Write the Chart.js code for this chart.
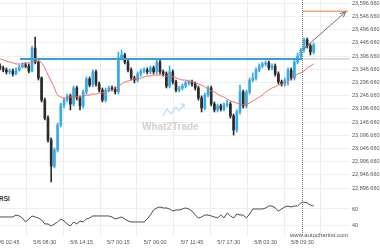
<!DOCTYPE html>
<html>
<head>
<meta charset="utf-8">
<script src="https://cdn.jsdelivr.net/npm/chart.js@4.4.1/dist/chart.umd.min.js"></script>
<style>
  html, body { margin: 0; padding: 0; background: #fff; }
  canvas { display: block; }
</style>
</head>
<body>
<canvas id="chart" width="380" height="250"></canvas>
<script>
// 30-minute candles, x = 15-minute slot index
const opens = [23359,23352,23344,23337,23340,23329,23344,23355,23363,23359,
  23340,23427,23374,23314,23230,23162,23079,22980,23041,23136,
  23212,23230,23246,23215,23276,23238,23208,23261,23310,23287,
  23337,23291,23268,23230,23268,23276,23272,23261,23390,23401,
  23374,23344,23314,23306,23329,23340,23344,23337,23352,23337,
  23374,23337,23329,23283,23337,23299,23268,23276,23283,23295,
  23299,23291,23276,23238,23200,23249,23276,23215,23193,23208,
  23196,23212,23215,23170,23117,23185,23261,23208,23261,23306,
  23314,23344,23359,23367,23371,23352,23359,23329,23299,23291,
  23306,23344,23314,23374,23397,23420,23458,23435,23412];
const closes = [23352,23344,23337,23340,23329,23344,23355,23363,23359,23340,
  23427,23374,23314,23230,23162,23079,22980,23041,23136,23212,
  23230,23246,23215,23276,23238,23208,23261,23310,23287,23337,
  23291,23268,23230,23268,23276,23272,23261,23390,23401,23374,
  23344,23314,23306,23329,23340,23344,23337,23352,23337,23374,
  23337,23329,23283,23337,23299,23268,23276,23283,23295,23299,
  23291,23276,23238,23200,23249,23276,23215,23193,23208,23196,
  23212,23215,23170,23117,23185,23261,23208,23261,23306,23314,
  23344,23359,23367,23371,23352,23359,23329,23299,23291,23306,
  23344,23314,23374,23397,23420,23458,23435,23412,23439];
const highs = [23367,23359,23352,23348,23348,23352,23363,23371,23371,23367,
  23435,23469,23378,23318,23238,23170,23087,23049,23143,23219,
  23238,23253,23253,23283,23283,23246,23268,23318,23318,23344,
  23344,23299,23276,23276,23283,23283,23280,23412,23420,23408,
  23382,23352,23321,23337,23348,23352,23352,23359,23359,23386,
  23382,23344,23337,23359,23344,23306,23283,23291,23302,23306,
  23306,23299,23283,23246,23257,23283,23283,23223,23215,23215,
  23219,23230,23223,23177,23193,23287,23268,23268,23314,23333,
  23352,23367,23374,23378,23378,23367,23367,23337,23306,23314,
  23352,23352,23382,23408,23427,23465,23465,23443,23446];
const lows = [23344,23337,23329,23329,23321,23325,23340,23352,23352,23333,
  23337,23367,23306,23223,23155,23071,22920,22973,23033,23128,
  23200,23223,23193,23208,23230,23193,23200,23253,23280,23280,
  23283,23261,23223,23223,23261,23265,23253,23253,23382,23367,
  23337,23306,23295,23299,23321,23333,23329,23329,23329,23329,
  23329,23321,23276,23276,23291,23261,23261,23268,23276,23287,
  23283,23268,23230,23185,23193,23242,23208,23185,23185,23189,
  23189,23204,23162,23098,23109,23177,23200,23200,23253,23299,
  23306,23337,23352,23359,23344,23344,23321,23291,23283,23283,
  23287,23306,23306,23367,23390,23412,23427,23401,23405];
const movingAvg = [23386,23382,23378,23374,23371,23367,23367,23367,23371,23371,
  23374,23378,23382,23371,23352,23325,23302,23276,23249,23242,
  23238,23238,23242,23242,23242,23242,23246,23249,23249,23253,
  23253,23257,23257,23261,23265,23268,23276,23283,23291,23299,
  23302,23306,23310,23310,23314,23318,23321,23321,23325,23325,
  23325,23325,23321,23318,23318,23314,23310,23306,23306,23302,
  23299,23295,23291,23287,23280,23272,23265,23261,23253,23246,
  23242,23234,23227,23223,23219,23215,23212,23215,23219,23227,
  23234,23242,23249,23261,23268,23276,23280,23287,23291,23295,
  23302,23310,23318,23329,23333,23340,23352,23359,23367];
const rsi = [50.6,50.6,50.6,50.6,50.6,52.9,51.8,49.4,44.7,48.2,
  51.8,50.6,49.4,47.1,42.4,42.4,40.0,42.4,44.7,48.2,
  45.9,42.4,40.0,44.7,42.4,45.9,44.7,48.2,49.4,51.8,
  51.8,51.8,51.8,51.8,51.8,50.6,48.2,49.4,50.6,48.2,
  45.9,44.7,44.7,44.7,44.7,44.7,48.2,52.9,58.8,61.2,
  62.4,61.2,61.2,60.0,57.6,58.8,58.8,60.0,61.2,60.0,
  57.6,52.9,49.4,50.6,52.9,52.9,51.8,50.6,49.4,52.9,
  49.4,55.3,51.8,49.4,54.1,52.9,52.9,49.4,54.1,60.0,
  60.0,60.0,60.0,61.2,63.5,63.5,61.2,57.6,60.0,62.4,
  63.5,62.4,63.5,63.5,67.1,68.2,67.1,64.7,63.5];

const timeLabels = ['5/6 02:45','5/6 08:30','5/6 14:15','5/7 00:15','5/7 06:00','5/7 11:45','5/7 17:30','5/8 03:30','5/8 09:30'];
const timeSlots = [5, 28, 51, 74, 97, 120, 143, 166, 189];
const priceTicks = [22896.66,22946.66,22996.66,23046.66,23096.66,23146.66,23196.66,23246.66,
  23296.66,23346.66,23396.66,23446.66,23496.66,23546.66,23596.66];
const rsiTicks = [40, 60];

const resistance = 23386;
const resistanceStart = 12.5;
const breakoutSlot = 189;
const targetPrice = 23567;
const arrowFrom = [189, 23420];
const arrowTo = [216, 23564];
const slotsPerCandle = 2;
const lastSlot = 218.75;

const UP = '#35abe8';
const DOWN = '#2b2b2b';

const candleColors = opens.map((o, i) => closes[i] >= o ? UP : DOWN);
const xs = opens.map((o, i) => i * slotsPerCandle);

Chart.defaults.font.family = '"Liberation Sans", Arial, sans-serif';

const overlay = {
  id: 'overlay',
  beforeDatasetsDraw(chart) {
    const ctx = chart.ctx;
    ctx.save();
    // watermark logo
    ctx.strokeStyle = 'rgba(120,190,235,0.5)';
    ctx.lineWidth = 1.2;
    ctx.beginPath();
    ctx.moveTo(163, 116); ctx.lineTo(167, 109); ctx.lineTo(171, 114);
    ctx.lineTo(176, 107); ctx.lineTo(179, 111); ctx.lineTo(184, 104);
    ctx.stroke();
    ctx.beginPath();
    ctx.moveTo(180, 104); ctx.lineTo(184, 104); ctx.lineTo(184, 108);
    ctx.stroke();
    ctx.font = 'bold 10px "Liberation Sans", Arial, sans-serif';
    ctx.fillStyle = 'rgba(190,190,190,0.7)';
    ctx.fillText('What2Trade', 142, 130);
    ctx.restore();
  },
  afterDatasetsDraw(chart) {
    const {ctx, chartArea, scales} = chart;
    const x = scales.x, y = scales.y;
    ctx.save();
    // vertical dotted line at breakout
    const vx = Math.round(x.getPixelForValue(breakoutSlot)) + 0.5;
    ctx.strokeStyle = '#7a7a7a';
    ctx.lineWidth = 1;
    ctx.setLineDash([1, 1]);
    ctx.beginPath();
    ctx.moveTo(vx, chartArea.top);
    ctx.lineTo(vx, chartArea.bottom);
    ctx.stroke();
    ctx.setLineDash([]);
    // arrow head
    const x1 = x.getPixelForValue(arrowFrom[0]), y1 = y.getPixelForValue(arrowFrom[1]);
    const x2 = x.getPixelForValue(arrowTo[0]), y2 = y.getPixelForValue(arrowTo[1]);
    const a = Math.atan2(y2 - y1, x2 - x1);
    ctx.strokeStyle = '#6f6f6f';
    ctx.beginPath();
    ctx.moveTo(x2 - 6 * Math.cos(a - 0.45), y2 - 6 * Math.sin(a - 0.45));
    ctx.lineTo(x2, y2);
    ctx.lineTo(x2 - 6 * Math.cos(a + 0.45), y2 - 6 * Math.sin(a + 0.45));
    ctx.stroke();
    // texts
    ctx.fillStyle = '#333';
    ctx.font = 'bold 6.5px "Liberation Sans", Arial, sans-serif';
    ctx.fillText('RSI', -1, 201);
    ctx.fillStyle = '#555';
    ctx.font = '6px "Liberation Sans", Arial, sans-serif';
    ctx.fillText('www.autochartist.com', 290, 237);
    ctx.restore();
  }
};

const tickFont = { size: 5.5 };

new Chart(document.getElementById('chart'), {
  type: 'bar',
  data: {
    datasets: [
      {
        label: 'wick',
        data: xs.map((v, i) => ({ x: v, y: [lows[i], highs[i]] })),
        backgroundColor: candleColors,
        barThickness: 1,
        grouped: false,
        yAxisID: 'y',
        order: 6
      },
      {
        label: 'body',
        data: xs.map((v, i) => ({ x: v, y: [opens[i], closes[i]] })),
        backgroundColor: candleColors,
        barThickness: 2,
        minBarLength: 1,
        grouped: false,
        yAxisID: 'y',
        order: 5
      },
      {
        type: 'line',
        label: 'MA',
        data: xs.map((v, i) => ({ x: v, y: movingAvg[i] })),
        borderColor: '#f26b63',
        borderWidth: 1,
        pointRadius: 0,
        tension: 0.4,
        yAxisID: 'y',
        order: 4
      },
      {
        type: 'line',
        label: 'resistance',
        data: [{ x: resistanceStart, y: resistance }, { x: breakoutSlot, y: resistance }],
        borderColor: '#3c9ed9',
        borderWidth: 2,
        pointRadius: 0,
        yAxisID: 'y',
        order: 3
      },
      {
        type: 'line',
        label: 'level',
        data: [{ x: breakoutSlot, y: resistance }, { x: lastSlot, y: resistance }],
        borderColor: '#777',
        borderWidth: 1,
        borderDash: [1, 1],
        pointRadius: 0,
        yAxisID: 'y',
        order: 3
      },
      {
        type: 'line',
        label: 'target',
        data: [{ x: breakoutSlot, y: targetPrice }, { x: 217.5, y: targetPrice }],
        borderColor: '#f5a07e',
        borderWidth: 1.5,
        pointRadius: 0,
        yAxisID: 'y',
        order: 2
      },
      {
        type: 'line',
        label: 'arrow',
        data: [{ x: arrowFrom[0], y: arrowFrom[1] }, { x: arrowTo[0], y: arrowTo[1] }],
        borderColor: '#6f6f6f',
        borderWidth: 1,
        pointRadius: 0,
        yAxisID: 'y',
        order: 1
      },
      {
        type: 'line',
        label: 'RSI',
        data: xs.map((v, i) => ({ x: v, y: rsi[i] })),
        borderColor: '#4a4a4a',
        borderWidth: 1,
        pointRadius: 0,
        tension: 0,
        yAxisID: 'y2',
        order: 1
      }
    ]
  },
  options: {
    responsive: false,
    animation: false,
    devicePixelRatio: 1,
    events: [],
    layout: { padding: 0 },
    plugins: {
      legend: { display: false },
      tooltip: { enabled: false }
    },
    scales: {
      x: {
        type: 'linear',
        min: 0,
        max: lastSlot,
        offset: false,
        border: { display: false },
        grid: { color: '#ececec', drawTicks: false },
        ticks: {
          font: tickFont,
          color: '#555',
          padding: 3,
          maxRotation: 0,
          autoSkip: false,
          callback: (v) => {
            const k = timeSlots.indexOf(v);
            return k >= 0 ? timeLabels[k] : '';
          }
        },
        afterBuildTicks: (s) => { s.ticks = timeSlots.map(v => ({ value: v })); },
        afterFit: (s) => { s.height = 14; s.paddingLeft = 0; s.paddingRight = 0; }
      },
      y: {
        type: 'linear',
        position: 'right',
        stack: 'panes',
        stackWeight: 196,
        min: 22866.8,
        max: 23609.2,
        border: { display: false },
        grid: { color: '#efefef', drawTicks: false },
        ticks: {
          font: tickFont,
          color: '#555',
          padding: 2,
          autoSkip: false,
          callback: (v) => v.toLocaleString('en-US', { minimumFractionDigits: 3, maximumFractionDigits: 3 })
        },
        afterBuildTicks: (s) => { s.ticks = priceTicks.map(v => ({ value: v })); },
        afterFit: (s) => { s.width = 30; s.paddingTop = 0; s.paddingBottom = 0; }
      },
      y2: {
        type: 'linear',
        position: 'right',
        stack: 'panes',
        stackWeight: 40,
        min: 28.2,
        max: 75.3,
        border: { display: false },
        grid: { color: '#efefef', drawTicks: false },
        ticks: { font: tickFont, color: '#555', padding: 2, autoSkip: false },
        afterBuildTicks: (s) => { s.ticks = rsiTicks.map(v => ({ value: v })); },
        afterFit: (s) => { s.width = 30; s.paddingTop = 0; s.paddingBottom = 0; }
      }
    }
  },
  plugins: [overlay]
});
</script>
</body>
</html>
